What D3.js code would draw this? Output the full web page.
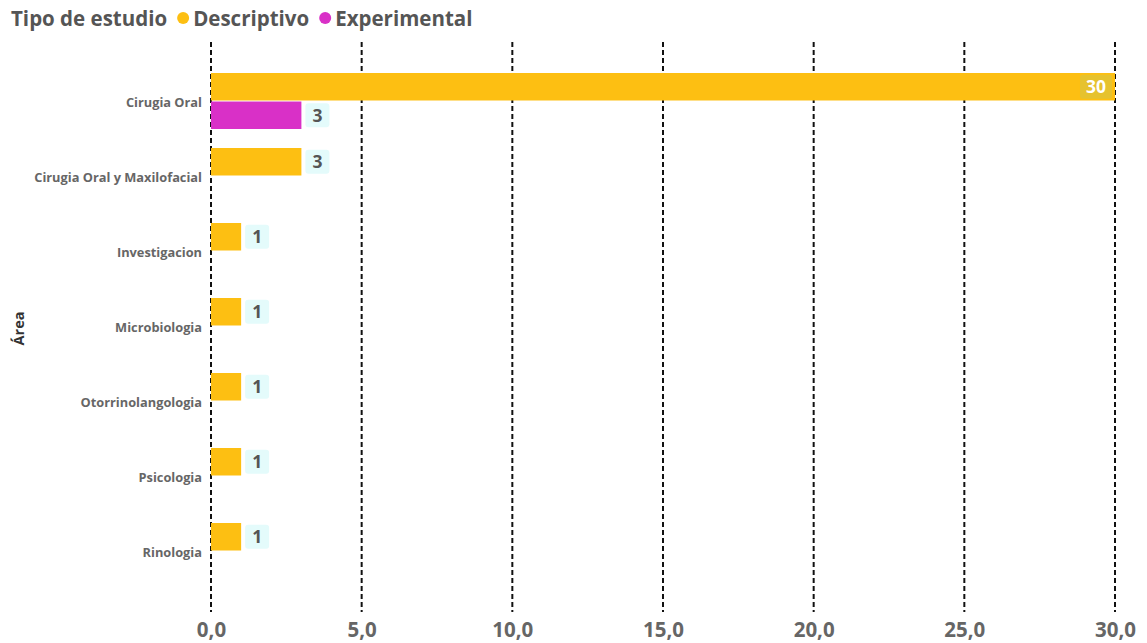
<!DOCTYPE html>
<html>
<head>
<meta charset="utf-8">
<script src="https://cdn.jsdelivr.net/npm/d3@7"></script>
<style>
  html, body { margin: 0; padding: 0; background: #fff; }
  svg { display: block; font-family: "Open Sans", "Noto Sans", sans-serif; }
</style>
</head>
<body>
<svg id="chart" width="1147" height="643"></svg>
<script>
// Áreas (eje vertical)
const areas = [
  "Cirugia Oral",
  "Cirugia Oral y Maxilofacial",
  "Investigacion",
  "Microbiologia",
  "Otorrinolangologia",
  "Psicologia",
  "Rinologia"
];
// Tipos de estudio (series)
const tipos = ["Descriptivo", "Experimental"];
const coloresTipo = ["#FDBF12", "#D930C7"];
// Recuento por área y tipo (null = sin estudios)
const descriptivo = [30, 3, 1, 1, 1, 1, 1];
const experimental = [3, null, null, null, null, null, null];
// Marcas del eje horizontal
const ticksX = [0, 5, 10, 15, 20, 25, 30];

(function () {
const svg = d3.select("#chart");
const plotLeft = 211, plotRight = 1115, plotTop = 64, plotBottom = 589;

const x = d3.scaleLinear().domain([0, 30]).range([plotLeft, plotRight]);
const y = d3.scaleBand().domain(areas).range([plotTop, plotBottom])
  .paddingInner(0.24).paddingOuter(0.12);
const y1 = d3.scaleBand().domain(tipos).range([0, y.bandwidth()]);
const color = d3.scaleOrdinal().domain(tipos).range(coloresTipo);

// Leyenda
const legend = svg.append("g").attr("class", "legend");
let lx = 11;
const lt = legend.append("text").attr("x", lx).attr("y", 26)
  .attr("font-size", 20.5).attr("font-weight", 700).attr("fill", "#555")
  .text("Tipo de estudio");
lx += lt.node().getComputedTextLength() + 16;
tipos.forEach(t => {
  legend.append("circle").attr("cx", lx).attr("cy", 18).attr("r", 6).attr("fill", color(t));
  const tx = legend.append("text").attr("x", lx + 10).attr("y", 26)
    .attr("font-size", 20.5).attr("font-weight", 700).attr("fill", "#555").text(t);
  lx += 10 + tx.node().getComputedTextLength() + 16;
});

// Rejilla vertical discontinua
const grid = svg.append("g").attr("class", "grid");
grid.selectAll("line").data(ticksX).join("line")
  .attr("x1", d => x(d)).attr("x2", d => x(d))
  .attr("y1", 42).attr("y2", 612)
  .attr("stroke", "#111").attr("stroke-width", 2)
  .attr("stroke-dasharray", "5,3");

// Eje X
const xAxis = d3.axisBottom(x).tickValues(ticksX)
  .tickFormat(d => d3.format(".1f")(d).replace(".", ","))
  .tickSize(0).tickPadding(0);
const gx = svg.append("g").attr("transform", "translate(0,637)").call(xAxis);
gx.select(".domain").remove();
gx.selectAll("text").attr("font-size", 20.5).attr("font-weight", 700)
  .attr("fill", "#666").attr("font-family", "'Open Sans', sans-serif").attr("dy", 0);

// Eje Y
const yAxis = d3.axisLeft(y).tickSize(0).tickPadding(9);
const gy = svg.append("g").attr("transform", `translate(${plotLeft},0)`).call(yAxis);
gy.select(".domain").remove();
gy.selectAll("text").attr("font-size", 12.8).attr("font-weight", 700)
  .attr("fill", "#666").attr("font-family", "'Open Sans', sans-serif").attr("dy", "0.45em");

svg.append("text")
  .attr("transform", `translate(24,${(plotTop + plotBottom) / 2 + 2}) rotate(-90)`)
  .attr("text-anchor", "middle").attr("font-size", 14.5).attr("font-weight", 700)
  .attr("fill", "#333").text("Área");

// Barras
const rows = [];
areas.forEach((a, i) => {
  rows.push({ area: a, tipo: "Descriptivo", v: descriptivo[i] });
  if (experimental[i] != null) rows.push({ area: a, tipo: "Experimental", v: experimental[i] });
});

const bars = svg.append("g").attr("class", "bars");
bars.selectAll("rect").data(rows).join("rect")
  .attr("x", x(0))
  .attr("y", d => y(d.area) + y1(d.tipo))
  .attr("width", d => x(d.v) - x(0))
  .attr("height", y1.bandwidth() - 1)
  .attr("fill", d => color(d.tipo));

// Etiquetas de datos
const labels = svg.append("g").attr("class", "labels");
rows.forEach(d => {
  const cy = y(d.area) + y1(d.tipo) + (y1.bandwidth() - 1) / 2;
  const inside = x(d.v) > plotRight - 60;
  const g = labels.append("g");
  const txt = g.append("text").attr("font-size", 17.5).attr("font-weight", 700)
    .attr("fill", inside ? "#fff" : "#555").attr("text-anchor", "middle")
    .attr("dy", "0.36em").text(d.v);
  const tw = txt.node().getComputedTextLength();
  const bw = Math.max(24, tw + 12), bh = 24;
  const bx = inside ? x(d.v) - 3 - bw : x(d.v) + 4;
  g.insert("rect", "text").attr("x", bx).attr("y", cy - bh / 2)
    .attr("width", bw).attr("height", bh).attr("rx", 3)
    .attr("fill", inside ? "#E6C22E" : "#E4FBFB");
  txt.attr("x", bx + bw / 2).attr("y", cy);
});
})();
</script>
</body>
</html>
